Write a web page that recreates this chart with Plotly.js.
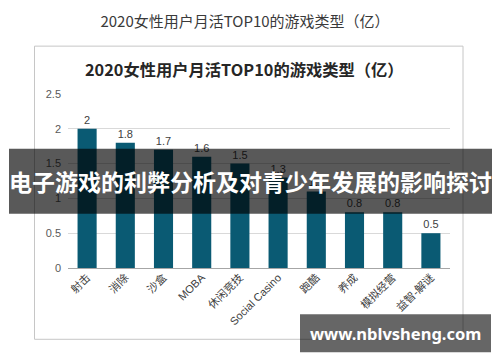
<!DOCTYPE html>
<html><head><meta charset="utf-8">
<script src="https://cdn.plot.ly/plotly-3.0.1.min.js"></script>
<style>html,body{margin:0;padding:0;background:#fff}#c{width:500px;height:362px}</style>
</head><body><div id="c"></div>
<script>
var categories = ["射击","消除","沙盒","MOBA","休闲竞技","Social Casino","跑酷","养成","模拟经营","益智-解谜"];
var values = [2, 1.8, 1.7, 1.6, 1.5, 1.3, 1.1, 0.8, 0.8, 0.5];
var outerTitle = "2020女性用户月活TOP10的游戏类型（亿）";
var innerTitle = "2020女性用户月活TOP10的游戏类型（亿）";
var bannerText = "电子游戏的利弊分析及对青少年发展的影响探讨";
var siteText = "www.nblvsheng.com";

var L = 68, R = 450, T = 94, B = 268.5, W = 500, H = 362;
function px(x){ return (x - L) / (R - L); }
function py(y){ return (B - y) / (B - T); }
var FONT = "Liberation Sans, Arial, Noto Sans CJK SC, sans-serif";
var CJK = "Noto Sans CJK SC, sans-serif";

var trace = {
  type: "bar", x: categories, y: values,
  marker: {color: "#0a5a73"},
  text: values.map(String), textposition: "outside", cliponaxis: false,
  textfont: {family: FONT, size: 11, color: "#404040"},
  hoverinfo: "none"
};

var layout = {
  width: W, height: H,
  margin: {l: L, r: W - R, t: T, b: H - B, pad: 0},
  paper_bgcolor: "#fff", plot_bgcolor: "#fff",
  showlegend: false, bargap: 0.5,
  title: {text: outerTitle, x: 0.49, xanchor: "center", y: 1 - 22 / H, yanchor: "middle", yref: "container",
          font: {family: CJK, size: 15, color: "#3a3a3a"}},
  xaxis: {type: "category", tickangle: -45, showgrid: false, ticks: "", showline: false,
          tickfont: {family: FONT, size: 11, color: "#404040"}, fixedrange: true},
  yaxis: {range: [0, 2.5], dtick: 0.5, showgrid: true, gridcolor: "#d9d9d9", gridwidth: 1,
          zeroline: true, zerolinecolor: "#a6a6a6", zerolinewidth: 1, ticks: "", showline: false,
          tickfont: {family: FONT, size: 11, color: "#595959"}, ticklabelstandoff: 6, fixedrange: true},
  shapes: [
    {type: "rect", xref: "paper", yref: "paper", x0: px(34.5), x1: px(463), y0: py(340), y1: py(46),
     line: {color: "#c6c6c6", width: 1}, fillcolor: "rgba(0,0,0,0)", layer: "below"},
    {type: "rect", xref: "paper", yref: "paper", x0: px(9), x1: px(492), y0: py(214), y1: py(149),
     line: {width: 0}, fillcolor: "rgba(0,0,0,0.65)", layer: "above"},
    {type: "rect", xref: "paper", yref: "paper", x0: px(300), x1: px(491), y0: py(353), y1: py(315),
     line: {width: 0}, fillcolor: "rgba(0,0,0,0.6)", layer: "above"}
  ],
  annotations: [
    {text: "<b>" + innerTitle + "</b>", xref: "paper", yref: "paper", x: px(244), y: py(69),
     xanchor: "center", yanchor: "middle", showarrow: false,
     font: {family: CJK, size: 16.3, color: "#262626"}},
    {text: "<b>" + bannerText + "</b>", xref: "paper", yref: "paper", x: px(250), y: py(181),
     xanchor: "center", yanchor: "middle", showarrow: false,
     font: {family: CJK, size: 23, color: "#ffffff"}},
    {text: "<b>" + siteText + "</b>", xref: "paper", yref: "paper", x: px(395), y: py(334),
     xanchor: "center", yanchor: "middle", showarrow: false,
     font: {family: "Noto Sans, DejaVu Sans, sans-serif", size: 16.5, color: "#ffffff"}}
  ]
};

Plotly.newPlot("c", [trace], layout, {displayModeBar: false, staticPlot: true});
</script></body></html>
